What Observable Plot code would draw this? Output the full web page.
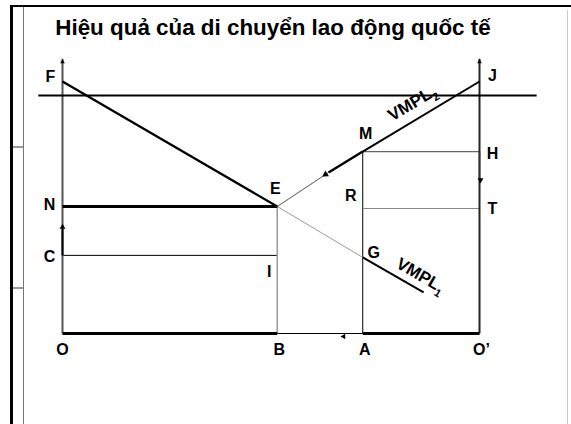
<!DOCTYPE html>
<html><head><meta charset="utf-8">
<script src="https://cdn.jsdelivr.net/npm/d3@7"></script>
<script src="https://cdn.jsdelivr.net/npm/@observablehq/plot@0.6"></script>
<style>
body{margin:0;background:#fff;}
#wrap{position:relative;width:571px;height:424px;overflow:hidden;font-family:"Liberation Sans",Arial,sans-serif;}
.fr{position:absolute;}
#title{position:absolute;left:0;width:546px;top:15px;text-align:center;font-weight:bold;font-size:22.4px;color:#000;white-space:nowrap;}
#chart{position:absolute;left:0;top:0;}
</style></head><body>
<div id="wrap">
  <div class="fr" style="left:10px;top:5px;width:3px;height:419px;background:#000"></div>
  <div class="fr" style="left:10px;top:5px;width:561px;height:2px;background:#000"></div>
  <div class="fr" style="left:23px;top:7px;width:1px;height:417px;background:#777"></div>
  <div class="fr" style="left:13px;top:146px;width:10px;height:2px;background:#999"></div>
  <div class="fr" style="left:13px;top:287px;width:10px;height:2px;background:#999"></div>
  <div class="fr" style="left:567px;top:10px;width:1px;height:414px;background:#ccc"></div>
  <div id="chart"></div>
  <div id="title"></div>
</div>
<script>
// ---- data (labour quantity on x, marginal value on y) ----
const titleText = "Hiệu quả của di chuyển lao động quốc tế";
const labourNames = ["O", "B", "A", "O’"];
const labourQty = [0, 51.5, 72, 100];
const leftNames = ["F", "N", "C"];
const leftVal = [100, 50.4, 31];
const rightNames = ["J", "H", "T"];
const rightVal = [100, 72.2, 49.6];
const vmpl1X = [0, 51.5, 72, 86.6];
const vmpl1Y = [100, 50.4, 30.2, 16.3];
const vmpl2X = [51.5, 63.8, 72, 100];
const vmpl2Y = [50.4, 63.9, 72.2, 100];
const refLineY = 94.4;
const refLineX = [-5.8, 113.7];
const axisTop = 109;
const cArrowTop = 43.6;
const hArrowTip = 59.5;
const bArrowTip = 66.7;
const rLevel = 54.8;
const iLevel = 24.6;
const curveNames = ["VMPL", "VMPL"];
const curveSubs = ["1", "2"];
const curveLabelX = [85.9, 83.9];
const curveLabelY = [23, 91.4];

const [O, B, A, O2] = labourQty;
const [F, N, C] = leftVal;
const [J, H, T] = rightVal;

function seg(x1, y1, x2, y2, stroke, strokeWidth) {
  return Plot.link([0], {x1: () => x1, y1: () => y1, x2: () => x2, y2: () => y2, stroke, strokeWidth, strokeLinecap: "butt"});
}
function lab(t, x, y, dx, dy, size = 16) {
  return Plot.text([t], {x: () => x, y: () => y, text: d => d, dx, dy, fontSize: size, fontWeight: "bold",
    fontFamily: "Liberation Sans, Arial, sans-serif", fill: "#000", textAnchor: "middle", lineAnchor: "middle"});
}
function head(x, y, rotate, dx = 0, dy = 0, r = 2.4) {
  return Plot.dot([0], {x: () => x, y: () => y, symbol: "triangle2", r, fill: "#000", stroke: "none", rotate, dx, dy});
}

const marks = [
  seg(O, C, B, C, "#000", 1),
  seg(B, 0, B, N, "#999", 1.5),
  seg(A, 0, A, H, "#000", 1),
  seg(A, H, O2, H, "#666", 1.2),
  seg(A, T, O2, T, "#888", 1.2),
  seg(B, 0, A, 0, "#000", 1),
  // axes
  seg(O, 0, O, axisTop, "#555", 2),
  seg(O2, 0, O2, axisTop, "#222", 2),
  head(O, axisTop, 0, 0, 3, 2.2),
  head(O2, axisTop, 0, 0, 3, 2.2),
  // reference horizontal
  seg(refLineX[0], refLineY, refLineX[1], refLineY, "#000", 2),
  // VMPL1
  seg(vmpl1X[0], vmpl1Y[0], vmpl1X[1], vmpl1Y[1], "#000", 2.2),
  seg(vmpl1X[1], vmpl1Y[1], vmpl1X[2], vmpl1Y[2], "#999", 1),
  seg(vmpl1X[2], vmpl1Y[2], vmpl1X[3], vmpl1Y[3], "#000", 2),
  // VMPL2
  seg(vmpl2X[0], vmpl2Y[0], vmpl2X[1], vmpl2Y[1], "#555", 1),
  seg(vmpl2X[1], vmpl2Y[1], vmpl2X[2], vmpl2Y[2], "#000", 2.5),
  seg(vmpl2X[2], vmpl2Y[2], vmpl2X[3], vmpl2Y[3], "#000", 2),
  head(vmpl2X[1], vmpl2Y[1], -123, -3, 2, 3.2),
  // N line and bottom axis thick parts
  seg(O, N, B, N, "#000", 3),
  seg(O, 0, B, 0, "#000", 3),
  seg(A, 0, O2, 0, "#000", 3),
  // small movement arrows
  seg(O, C, O, cArrowTop - 2, "#000", 2),
  head(O, cArrowTop, 0, 0, 3.5, 2.8),
  seg(O2, H, O2, hArrowTip + 2, "#333", 1.5),
  head(O2, hArrowTip, 180, 1, -3.5, 2.8),
  head(bArrowTip, 0, -90, 3, 3, 2.6),
  // point labels
  lab(leftNames[0], O, F, -12, -5),
  lab(rightNames[0], O2, J, 13, -6),
  lab(leftNames[1], O, N, -13, -2),
  lab(leftNames[2], O, C, -13, 1),
  lab("E", vmpl1X[1], vmpl1Y[1], -2, -18),
  lab("M", A, H, 3, -18),
  lab(rightNames[1], O2, H, 13, 2),
  lab("R", A, rLevel, -12, 0),
  lab(rightNames[2], O2, T, 13, 0),
  lab("G", A, vmpl1Y[2], 11, -5),
  lab("I", B, iLevel, -8, 0),
  lab(labourNames[0], O, 0, 0, 16),
  lab(labourNames[1], B, 0, 2, 16),
  lab(labourNames[2], A, 0, 2, 16),
  lab(labourNames[3], O2, 0, 2, 16),
  // curve labels
  Plot.text([0], {x: () => curveLabelX[0], y: () => curveLabelY[0], text: () => "C1", rotate: 30, fontSize: 17, fontWeight: "bold", fontFamily: "Liberation Sans, Arial, sans-serif", textAnchor: "middle", lineAnchor: "middle"}),
  Plot.text([0], {x: () => curveLabelX[1], y: () => curveLabelY[1], text: () => "C2", rotate: -31, fontSize: 17, fontWeight: "bold", fontFamily: "Liberation Sans, Arial, sans-serif", textAnchor: "middle", lineAnchor: "middle"})
];

const svg = Plot.plot({
  width: 571, height: 424,
  marginLeft: 62, marginRight: 92, marginTop: 81, marginBottom: 91,
  x: {domain: [0, 100], axis: null},
  y: {domain: [0, 100], axis: null},
  style: {background: "transparent", overflow: "visible"},
  marks
});
d3.select(svg).selectAll("text").each(function() {
  const t = d3.select(this);
  const s = t.text();
  if (s === "C1" || s === "C2") {
    const i = s === "C1" ? 0 : 1;
    t.text(curveNames[i]);
    t.append("tspan").attr("dy", 5).attr("font-size", 11).text(curveSubs[i]);
  }
});
document.getElementById("chart").appendChild(svg);
document.getElementById("title").textContent = titleText;
</script>
</body></html>
